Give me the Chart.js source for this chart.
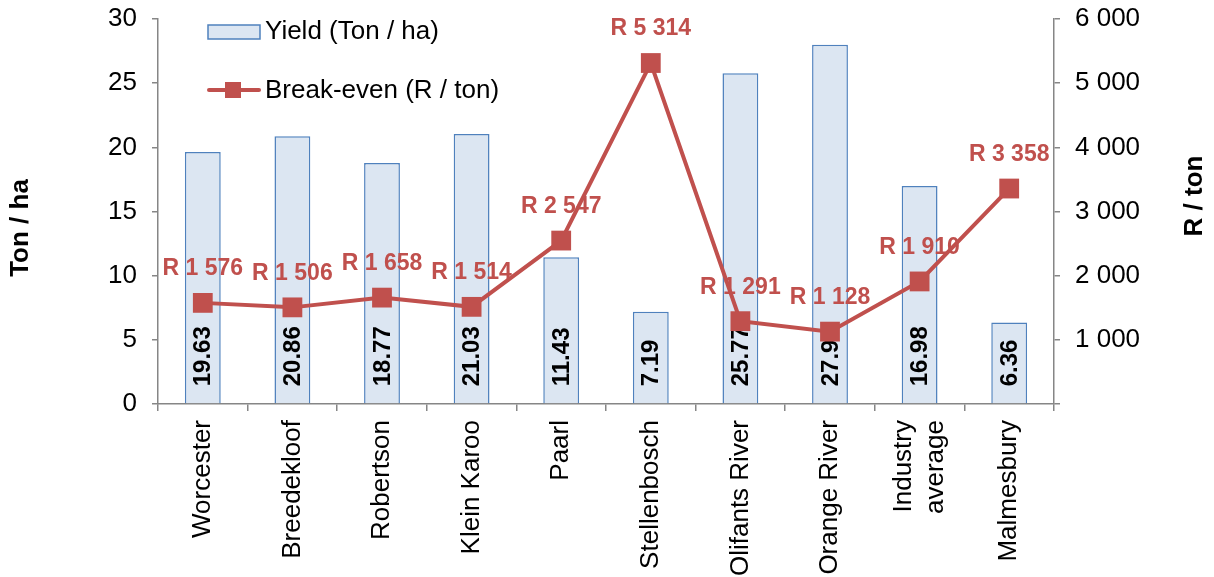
<!DOCTYPE html>
<html>
<head>
<meta charset="utf-8">
<script src="https://cdn.jsdelivr.net/npm/chart.js@4.4.1/dist/chart.umd.min.js"></script>
<style>
  html, body { margin: 0; padding: 0; background: #fff; }
  #wrap { width: 1214px; height: 577px; }
</style>
</head>
<body>
<div id="wrap"><canvas id="chart" width="1214" height="577"></canvas></div>
<script>
// Regions (x-axis categories)
const regions = ['Worcester', 'Breedekloof', 'Robertson', 'Klein Karoo', 'Paarl',
  'Stellenbosch', 'Olifants River', 'Orange River', ['Industry', 'average'], 'Malmesbury'];
// Yield per hectare (left axis)
const yieldTonHa = [19.63, 20.86, 18.77, 21.03, 11.43, 7.19, 25.77, 27.99, 16.98, 6.36];
// Break-even price per ton (right axis)
const breakEvenRTon = [1576, 1506, 1658, 1514, 2547, 5314, 1291, 1128, 1910, 3358];
// Series names
const seriesNames = ['Yield (Ton / ha)', 'Break-even (R / ton)'];
// Axis titles
const axisTitles = ['Ton / ha', 'R / ton'];

const FONT = '"Liberation Sans", Arial, sans-serif';
const BAR_FILL = '#dce6f2';
const BAR_EDGE = '#4f81bd';
const LINE_RED = '#c0504d';
const AXIS_GREY = '#868686';

function spaced(n) {
  return String(n).replace(/\B(?=(\d{3})+(?!\d))/g, ' ');
}

Chart.defaults.font.family = FONT;
Chart.defaults.font.size = 26;
Chart.defaults.color = '#000';

// Value labels: bar values inside the bars, break-even values above the points.
// Drawn right after the bars so the line sits on top of them.
const valueLabels = {
  id: 'valueLabels',
  afterDatasetDraw(chart, args) {
    if (args.index !== 0) return;
    const ctx = chart.ctx;
    ctx.save();
    ctx.font = 'bold 24px ' + FONT;
    ctx.fillStyle = '#000';
    ctx.textAlign = 'left';
    ctx.textBaseline = 'middle';
    chart.getDatasetMeta(0).data.forEach((bar, i) => {
      ctx.save();
      ctx.translate(bar.x + 1, bar.base - 17);
      ctx.rotate(-Math.PI / 2);
      ctx.fillText(yieldTonHa[i].toFixed(2), 0, 0);
      ctx.restore();
    });
    ctx.font = 'bold 23px ' + FONT;
    ctx.fillStyle = LINE_RED;
    ctx.textAlign = 'center';
    chart.getDatasetMeta(1).data.forEach((pt, i) => {
      ctx.fillText('R ' + spaced(breakEvenRTon[i]), pt.x, pt.y - 34);
    });
    ctx.restore();
  }
};

// Category labels, rotated, with multi-line labels centred on their tick
const categoryLabels = {
  id: 'categoryLabels',
  afterDraw(chart) {
    const ctx = chart.ctx;
    const xs = chart.scales.x;
    const lineGap = 32;
    ctx.save();
    ctx.font = '26px ' + FONT;
    ctx.fillStyle = '#000';
    ctx.textAlign = 'right';
    ctx.textBaseline = 'middle';
    regions.forEach((label, i) => {
      const lines = Array.isArray(label) ? label : [label];
      const cx = xs.getPixelForValue(i);
      lines.forEach((line, j) => {
        ctx.save();
        ctx.translate(cx + (j - (lines.length - 1) / 2) * lineGap, xs.top + 16);
        ctx.rotate(-Math.PI / 2);
        ctx.fillText(line, 0, 0);
        ctx.restore();
      });
    });
    ctx.restore();
  }
};

// Legend inside the plot area and the two rotated axis titles
const decorations = {
  id: 'decorations',
  afterDraw(chart) {
    const ctx = chart.ctx;
    ctx.save();
    // bar legend entry
    ctx.fillStyle = BAR_FILL;
    ctx.strokeStyle = BAR_EDGE;
    ctx.lineWidth = 1.5;
    ctx.fillRect(208, 25, 52, 14);
    ctx.strokeRect(208, 25, 52, 14);
    // line legend entry
    ctx.strokeStyle = LINE_RED;
    ctx.lineWidth = 4;
    ctx.lineCap = 'round';
    ctx.beginPath();
    ctx.moveTo(209, 90);
    ctx.lineTo(259, 90);
    ctx.stroke();
    ctx.fillStyle = LINE_RED;
    ctx.fillRect(225, 82, 16, 16);
    ctx.fillStyle = '#000';
    ctx.font = '26px ' + FONT;
    ctx.textAlign = 'left';
    ctx.textBaseline = 'middle';
    ctx.fillText(seriesNames[0], 265, 32);
    ctx.fillText(seriesNames[1], 265, 91);
    // axis titles
    ctx.font = 'bold 26px ' + FONT;
    ctx.textAlign = 'center';
    ctx.save();
    ctx.translate(21, 228);
    ctx.rotate(-Math.PI / 2);
    ctx.fillText(axisTitles[0], 0, 0);
    ctx.restore();
    ctx.save();
    ctx.translate(1195, 196);
    ctx.rotate(-Math.PI / 2);
    ctx.fillText(axisTitles[1], 0, 0);
    ctx.restore();
    ctx.restore();
  }
};

function fixBox(w, h) {
  return s => {
    if (w !== null) s.width = w;
    if (h !== null) s.height = h;
    s.paddingTop = 0; s.paddingBottom = 0; s.paddingLeft = 0; s.paddingRight = 0;
  };
}

new Chart(document.getElementById('chart'), {
  data: {
    labels: regions,
    datasets: [
      {
        type: 'bar',
        label: seriesNames[0],
        data: yieldTonHa,
        yAxisID: 'y',
        backgroundColor: BAR_FILL,
        borderColor: BAR_EDGE,
        borderWidth: 1.5,
        barPercentage: 0.4,
        categoryPercentage: 1.0,
        order: 2
      },
      {
        type: 'line',
        label: seriesNames[1],
        data: breakEvenRTon,
        yAxisID: 'y2',
        borderColor: LINE_RED,
        backgroundColor: LINE_RED,
        borderWidth: 4,
        pointStyle: 'rect',
        pointRadius: 14,
        pointBorderWidth: 0,
        pointBackgroundColor: LINE_RED,
        pointBorderColor: LINE_RED,
        tension: 0,
        order: 1
      }
    ]
  },
  options: {
    responsive: false,
    animation: false,
    devicePixelRatio: 1,
    layout: { padding: { top: 19, left: 0, right: 0, bottom: 0 } },
    plugins: {
      legend: { display: false },
      tooltip: { enabled: false }
    },
    scales: {
      x: {
        type: 'category',
        position: 'bottom',
        offset: true,
        afterFit: fixBox(null, 173),
        grid: { display: true, drawOnChartArea: false, drawTicks: true, tickLength: 7, offset: true, color: AXIS_GREY, lineWidth: 1.5 },
        border: { display: true, color: AXIS_GREY, width: 1.5 },
        ticks: { display: false, autoSkip: false }
      },
      y: {
        type: 'linear',
        position: 'left',
        min: 0, max: 30,
        afterFit: fixBox(158, null),
        grid: { display: true, drawOnChartArea: false, drawTicks: true, tickLength: 6, color: AXIS_GREY, lineWidth: 1.5 },
        border: { display: true, color: AXIS_GREY, width: 1.5 },
        ticks: { stepSize: 5, padding: 15, font: { size: 26 }, color: '#000' }
      },
      y2: {
        type: 'linear',
        position: 'right',
        min: 0, max: 6000,
        afterFit: fixBox(160, null),
        grid: { display: true, drawOnChartArea: false, drawTicks: true, tickLength: 6, color: AXIS_GREY, lineWidth: 1.5 },
        border: { display: true, color: AXIS_GREY, width: 1.5 },
        ticks: {
          stepSize: 1000, padding: 15, font: { size: 26 }, color: '#000',
          callback: v => (v === 0 ? '' : spaced(v))
        }
      }
    }
  },
  plugins: [valueLabels, categoryLabels, decorations]
});
</script>
</body>
</html>
